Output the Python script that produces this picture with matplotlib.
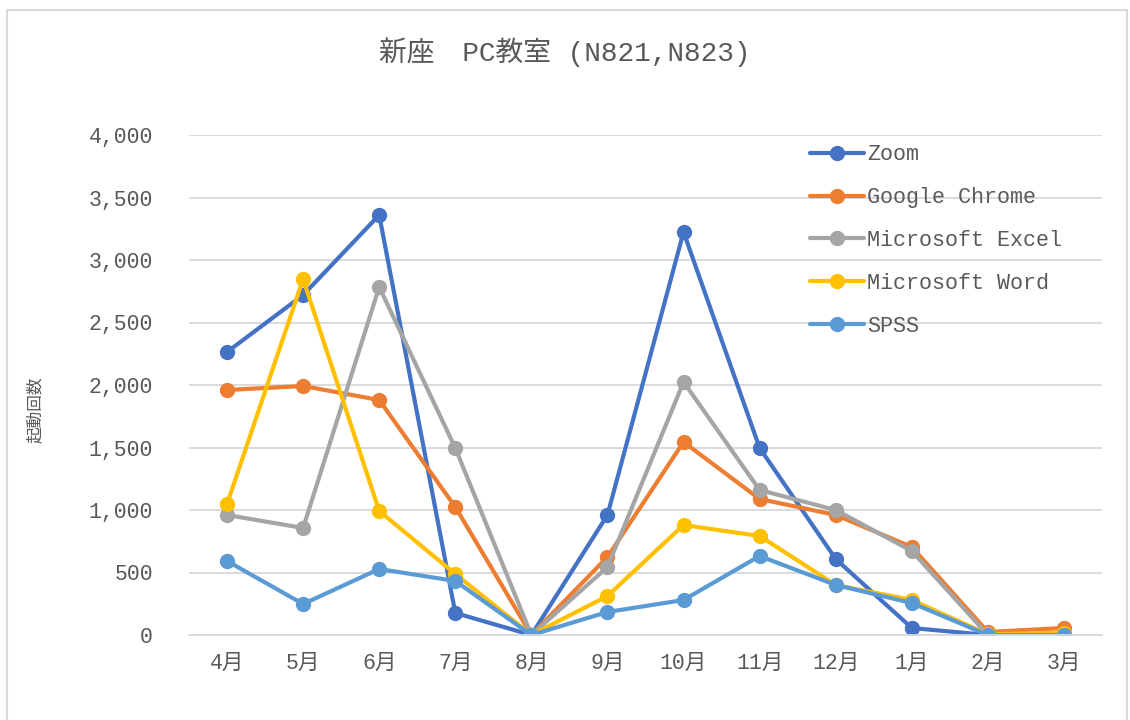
import matplotlib
matplotlib.use('Agg')
import matplotlib.pyplot as plt
from matplotlib.patches import Rectangle

months = ['4月', '5月', '6月', '7月', '8月', '9月', '10月', '11月', '12月', '1月', '2月', '3月']

zoom = [2264, 2720, 3360, 176, 0, 960, 3224, 1496, 608, 56, 0, 0]
chrome = [1960, 1992, 1880, 1024, 0, 624, 1544, 1088, 960, 704, 24, 56]
excel = [960, 856, 2784, 1496, 0, 544, 2024, 1160, 1000, 672, 0, 0]
word = [1048, 2848, 992, 488, 0, 312, 880, 792, 400, 280, 5, 20]
spss = [592, 248, 528, 432, 0, 184, 280, 632, 400, 256, 0, 0]

names = ['Zoom', 'Google Chrome', 'Microsoft Excel', 'Microsoft Word', 'SPSS']
colors = ['#4472C4', '#ED7D31', '#A5A5A5', '#FFC000', '#5B9BD5']

fonts = ['Liberation Mono', 'Noto Sans CJK JP', 'DejaVu Sans']
txt = '#595959'

fig = plt.figure(figsize=(11.3, 7.2), dpi=100)
ax = fig.add_axes([189 / 1130, 85 / 720, 913 / 1130, 500 / 720])

x = range(len(months))
for vals, name, c in zip([zoom, chrome, excel, word, spss], names, colors):
    ax.plot(x, vals, color=c, lw=3, marker='o', markersize=10, label=name,
            solid_joinstyle='round', solid_capstyle='round')

ax.set_xlim(-0.5, 11.5)
ax.set_ylim(0, 4000)
ax.set_yticks(range(0, 4001, 500))
ax.set_yticklabels([f'{v:,}' for v in range(0, 4001, 500)])
ax.set_xticks(list(x))
ax.set_xticklabels(months)
ax.grid(axis='y', color='#D9D9D9', lw=1.3)
ax.set_axisbelow(True)
for s in ['top', 'right', 'left']:
    ax.spines[s].set_visible(False)
ax.spines['bottom'].set_color('#D9D9D9')
ax.spines['bottom'].set_linewidth(1.3)
ax.tick_params(length=0, colors=txt)
ax.tick_params(axis='y', pad=26)
ax.tick_params(axis='x', pad=13)
for lab in ax.get_xticklabels() + ax.get_yticklabels():
    lab.set_family(fonts)
    lab.set_fontsize(15.5)
    lab.set_color(txt)

ax.set_ylabel('起動回数', family=fonts, fontsize=12, color=txt)
ax.yaxis.set_label_coords(-0.16, 0.45)

fig.text(0.5, 0.927, '新座　PC教室 (N821,N823)', ha='center', va='center',
         family=fonts, fontsize=20, color=txt)

leg = ax.legend(loc='upper left', bbox_to_anchor=(0.675, 0.99), frameon=False,
                prop={'family': fonts, 'size': 15.7}, handlelength=2.5,
                labelspacing=1.0, handletextpad=0.12, borderaxespad=0,
                borderpad=0.2)
for t in leg.get_texts():
    t.set_color(txt)

fig.patches.append(Rectangle((7 / 1130, -0.01), 1120 / 1130, 1.0 - 10 / 720 + 0.01,
                             transform=fig.transFigure, fill=False,
                             edgecolor='#D9D9D9', lw=1.5))

fig.savefig('out.png', dpi=100)
